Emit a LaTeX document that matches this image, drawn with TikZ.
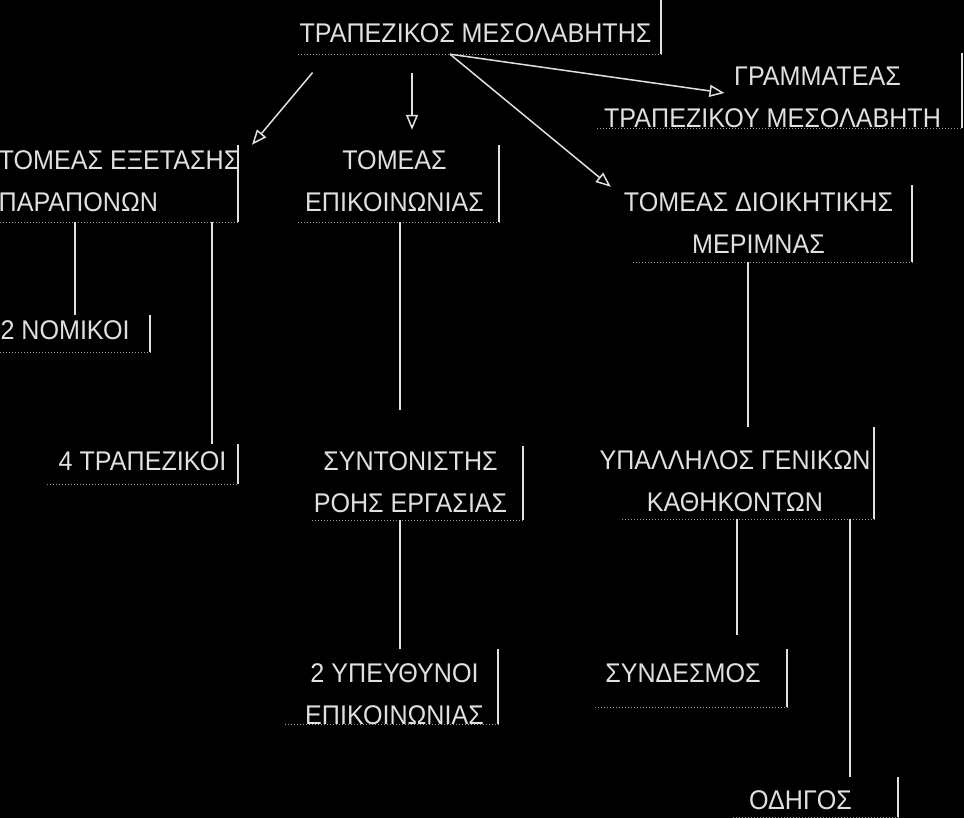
\documentclass[tikz,border=0pt]{standalone}
\usepackage{fontspec}
\setmainfont{Liberation Sans}[FakeStretch=0.93]
\usetikzlibrary{arrows.meta}
\definecolor{ink}{gray}{0.88}
\definecolor{rulegray}{gray}{0.6}
\begin{document}
\begin{tikzpicture}[x=1pt, y=-1pt,
  every node/.style={text=ink, inner sep=0pt, align=center,
    font=\fontsize{27}{42}\selectfont},
  box/.style 2 args={minimum width=#1, minimum height=#2},
  link/.style={draw=ink, line width=1.5pt},
  arr/.style={link, -{Triangle[open, length=15pt, width=12pt]}}
]

\fill[black] (0,0) rectangle (964,818);
\useasboundingbox (0,0) rectangle (964,818);

\node[box={363}{54}, label={[xshift=-4pt, yshift=-6pt]center:ΤΡΑΠΕΖΙΚΟΣ ΜΕΣΟΛΑΒΗΤΗΣ}] (mesol) at (479.5,27) {};
\node[box={365}{75}, label={[xshift=-7pt, yshift=-7pt]center:\hspace*{90pt}ΓΡΑΜΜΑΤΕΑΣ\\ΤΡΑΠΕΖΙΚΟΥ ΜΕΣΟΛΑΒΗΤΗ}] (gram) at (779.5,90.5) {};

\node[box={238}{77}, label={[align=left, yshift=2pt]center:ΤΟΜΕΑΣ ΕΞΕΤΑΣΗΣ\\ΠΑΡΑΠΟΝΩΝ}] (exet) at (119,183.5) {};
\node[box={201}{77}, label={[xshift=-4pt, yshift=2pt]center:ΤΟΜΕΑΣ\\ΕΠΙΚΟΙΝΩΝΙΑΣ}] (epik) at (398.5,183.5) {};
\node[box={279}{77}, label={[xshift=-14pt]center:ΤΟΜΕΑΣ ΔΙΟΙΚΗΤΙΚΗΣ\\ΜΕΡΙΜΝΑΣ}] (dioik) at (772.5,223.5) {};

\node[box={150}{37}, label={[xshift=-10pt, yshift=3pt]center:2 ΝΟΜΙΚΟΙ}] (nom) at (75,333.5) {};
\node[box={191}{40}, label={[yshift=3pt]center:4 ΤΡΑΠΕΖΙΚΟΙ}] (trap) at (142.5,464) {};
\node[box={211}{74}, label={[xshift=-7pt, yshift=1pt]center:ΣΥΝΤΟΝΙΣΤΗΣ\\ΡΟΗΣ ΕΡΓΑΣΙΑΣ}] (synt) at (417.5,483) {};
\node[box={252}{92}, label={[xshift=-13pt, yshift=-8pt]center:ΥΠΑΛΛΗΛΟΣ ΓΕΝΙΚΩΝ\\ΚΑΘΗΚΟΝΤΩΝ}] (ypal) at (748,473) {};

\node[box={213}{75}, label={[xshift=3pt, yshift=-8pt]center:2 ΥΠΕΥΘΥΝΟΙ\\ΕΠΙΚΟΙΝΩΝΙΑΣ}] (ypef) at (391.5,686.5) {};
\node[box={192}{58}, label={[xshift=-8pt, yshift=5pt]center:ΣΥΝΔΕΣΜΟΣ}] (synd) at (691,678) {};
\node[box={165}{40}, label={[xshift=-15pt, yshift=-3pt]center:ΟΔΗΓΟΣ}] (odig) at (815.5,797) {};

% right rule and dotted foot of every box
\foreach \n in {mesol,gram,exet,epik,dioik,nom,trap,synt,ypal,ypef,synd,odig}{
  \draw[link] (\n.north east) -- (\n.south east);
  \draw[rulegray, dotted, line width=1pt] (\n.south west) -- (\n.south east);
}

% arrows from the top
\draw[arr, shorten <=24pt] (mesol.south -| 328,0) -- (exet.north east -| 252,0);
\draw[arr, shorten <=19pt, shorten >=15pt] (mesol.south -| 412,0) -- (epik.north -| 412,0);
\draw[arr] (mesol.south -| 450,0) -- ([xshift=-55pt,yshift=-2.5pt]gram.center);
\draw[arr] (mesol.south -| 450,0) -- ([xshift=-22pt,yshift=-2pt]dioik.north west);

% plain links
\draw[link] (exet.south -| nom.north) -- (nom.north);
\draw[link] (exet.south -| 212,0) -- (trap.north -| 212,0);
\draw[link, shorten >=36pt] (epik.south -| 400,0) -- (synt.north -| 400,0);
\draw[link] (synt.south -| 400,0) -- (ypef.north -| 400,0);
\draw[link] (dioik.south -| ypal.north) -- (ypal.north);
\draw[link, shorten >=14pt] (ypal.south -| 737,0) -- (synd.north -| 737,0);
\draw[link] (ypal.south -| 850,0) -- (odig.north -| 850,0);

\end{tikzpicture}
\end{document}
